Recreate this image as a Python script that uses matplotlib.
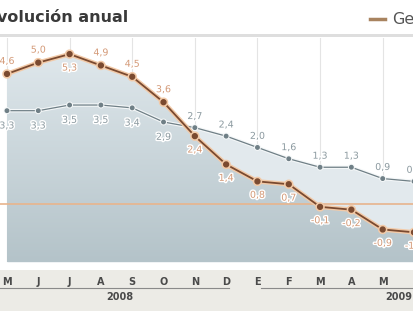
import matplotlib
matplotlib.use("Agg")
import matplotlib.pyplot as plt
import matplotlib.patheffects as pe
from matplotlib.patches import Rectangle
from matplotlib.transforms import blended_transform_factory
import numpy as np

# datos
meses = ["M", "J", "J", "A", "S", "O", "N", "D", "E", "F", "M", "A", "M", "J"]
general = [4.6, 5.0, 5.3, 4.9, 4.5, 3.6, 2.4, 1.4, 0.8, 0.7, -0.1, -0.2, -0.9, -1.0]
subyacente = [3.3, 3.3, 3.5, 3.5, 3.4, 2.9, 2.7, 2.4, 2.0, 1.6, 1.3, 1.3, 0.9, 0.8]
# etiqueta arriba (True) o abajo (False)
gen_arriba = [True, True, False, True, True, True, False, False, False, False, False, False, False, False]
sub_arriba = [False, False, False, False, False, False, True, True, True, True, True, True, True, True]
anios = ["2008", "2009"]

W, H = 414, 311
fig = plt.figure(figsize=(W / 100, H / 100), dpi=100)
fig.patch.set_facecolor("white")

# banda gris inferior y separador del título
fig.add_artist(Rectangle((0, 0), 1, 41 / H, transform=fig.transFigure,
                         facecolor="#ecebe6", edgecolor="none", zorder=-5))
fig.add_artist(Rectangle((0, 1 - 37 / H), 1, 3 / H, transform=fig.transFigure,
                         facecolor="#dedede", edgecolor="none", zorder=-5))

fig.text(-14 / W, 1 - 18 / H, "Evolución anual", fontsize=11.5, fontweight="bold",
         color="#3a3a3a", va="center", ha="left")
fig.add_artist(plt.Line2D([370 / W, 385 / W], [1 - 19 / H, 1 - 19 / H], color="#a8835f",
                          lw=2.5, transform=fig.transFigure))
fig.text(392 / W, 1 - 19 / H, "General", fontsize=11.5,
         color="#555555", va="center", ha="left")

ax = fig.add_axes([0, 49 / H, 1, 224 / H])
ax.patch.set_alpha(0)
x = np.arange(len(meses))
x0 = -7 / 31.4
ax.set_xlim(x0, 13.0)
ymin, ymax = -2.05, 5.87
ax.set_ylim(ymin, ymax)

for s in ax.spines.values():
    s.set_visible(False)
ax.set_yticks([])

# rejilla vertical cada dos meses
for xi in x[::2]:
    ax.axvline(xi, color="#e4e4e4", lw=0.8, zorder=0)

# relleno
ax.fill_between(x, subyacente, ymin, color="#e2e9ed", zorder=1, lw=0)
poly = ax.fill_between(x, general, ymin, color="none", zorder=2, lw=0)
cmap = matplotlib.colors.LinearSegmentedColormap.from_list("g", ["#b4c3c9", "#e2eaee"])
img = ax.imshow(np.linspace(1, 0, 256).reshape(-1, 1), extent=[x0, 13.5, ymin, ymax],
                aspect="auto", cmap=cmap, origin="upper", zorder=2, vmin=0, vmax=1)
img.set_clip_path(poly.get_paths()[0], transform=ax.transData)
ax.set_xlim(x0, 13.0)

ax.axhline(0, color="#e8b48c", lw=1.2, zorder=3)

ax.plot(x, subyacente, color="#6f7f86", lw=0.9, marker="o", ms=2.5, zorder=4,
        path_effects=[pe.Stroke(linewidth=2.5, foreground="#f4f7f8"), pe.Normal()])
ax.plot(x, general, color="#7a4a30", lw=1.3, marker="o", ms=3.5, zorder=5,
        path_effects=[pe.Stroke(linewidth=3.3, foreground="#f2caa8"), pe.Normal()])

halo = [pe.withStroke(linewidth=2, foreground="white")]
for xi, v, up in zip(x, general, gen_arriba):
    ax.annotate(f"{v:.1f}".replace(".", ","), (xi, v), xytext=(0, 9 if up else -10),
                textcoords="offset points", ha="center", va="center", fontsize=6.8,
                color="#d49a78", path_effects=halo, zorder=6, annotation_clip=False)
for xi, v, up in zip(x, subyacente, sub_arriba):
    ax.annotate(f"{v:.1f}".replace(".", ","), (xi, v), xytext=(0, 8 if up else -11),
                textcoords="offset points", ha="center", va="center", fontsize=6.8,
                color="#8c9aa0", path_effects=halo, zorder=6, annotation_clip=False)

# el último mes queda fuera del recorte
ax.set_xticks(x[:-1])
ax.set_xticklabels(meses[:-1], fontsize=7, fontweight="bold", color="#4a4a4a")
ax.tick_params(axis="x", length=0, pad=11)

tr = blended_transform_factory(ax.transData, fig.transFigure)
ax.plot([x0 - 1, 7.1], [1 - 288 / H] * 2, color="#8a8a8a", lw=0.8, transform=tr, clip_on=False)
ax.plot([8.1, 14], [1 - 288 / H] * 2, color="#8a8a8a", lw=0.8, transform=tr, clip_on=False)
ax.text(3.6, 1 - 297 / H, anios[0], transform=tr, ha="center", va="center",
        fontsize=7, fontweight="bold", color="#4a4a4a")
ax.text(12.5, 1 - 297 / H, anios[1], transform=tr, ha="center", va="center",
        fontsize=7, fontweight="bold", color="#4a4a4a")

fig.savefig("out.png", dpi=100)
